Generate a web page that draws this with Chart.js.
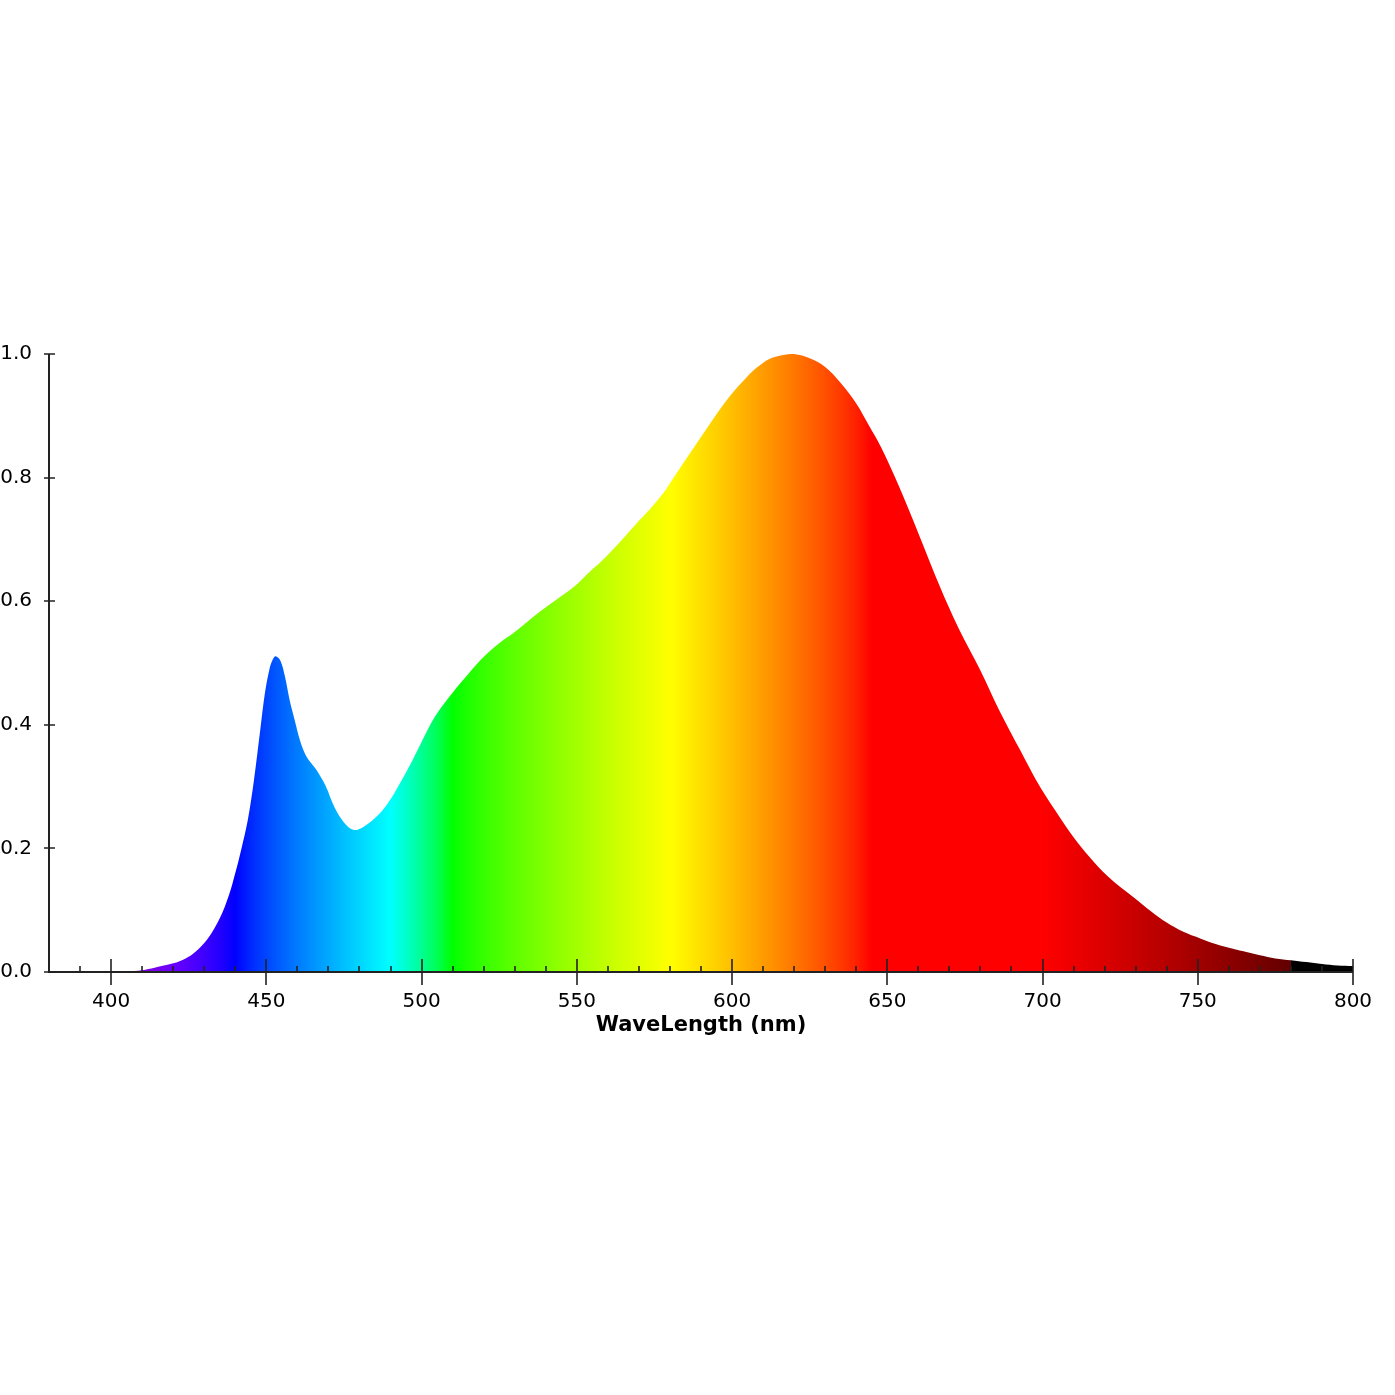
<!DOCTYPE html>
<html>
<head>
<meta charset="utf-8">
<script src="https://cdn.jsdelivr.net/npm/chart.js@4.4.1/dist/chart.umd.min.js"></script>
<style>
  html, body { margin: 0; padding: 0; background: #fff; }
  #wrap { width: 1395px; height: 1395px; }
</style>
</head>
<body>
<div id="wrap"><canvas id="spectre"></canvas></div>
<script>
// longueurs d'onde (nm) et intensite relative
var longueurs = [380, 390, 400, 405, 410, 414, 420, 424, 427, 431, 435, 438, 440, 442, 444, 446, 448, 449.5, 451, 452, 453, 454.5, 456, 457.5, 459, 461, 463, 466, 469, 472, 475, 478, 481, 485, 489, 493, 497, 500, 503, 506, 510, 514, 519, 525, 530, 536, 541, 549, 554, 558, 565, 570, 573, 578, 580, 586, 593, 599, 605, 608, 612, 616, 620, 625, 630, 635, 640, 644, 648, 654, 660, 667, 673, 680, 686, 693, 698, 704, 710, 715, 721, 729, 735, 740, 745, 751, 756, 761, 766, 770, 775, 780, 785, 790, 795, 800];
var intensites = [0, 0, 0.0005, 0.001, 0.003, 0.007, 0.014, 0.022, 0.032, 0.053, 0.087, 0.125, 0.16, 0.2, 0.245, 0.31, 0.39, 0.45, 0.49, 0.505, 0.511, 0.504, 0.478, 0.44, 0.41, 0.372, 0.348, 0.328, 0.302, 0.266, 0.242, 0.23, 0.234, 0.249, 0.272, 0.305, 0.342, 0.372, 0.402, 0.426, 0.452, 0.476, 0.505, 0.532, 0.55, 0.575, 0.594, 0.623, 0.647, 0.665, 0.702, 0.73, 0.746, 0.776, 0.791, 0.836, 0.888, 0.93, 0.964, 0.978, 0.992, 0.998, 1.0, 0.993, 0.979, 0.953, 0.92, 0.885, 0.849, 0.783, 0.71, 0.623, 0.556, 0.488, 0.424, 0.357, 0.31, 0.262, 0.218, 0.187, 0.155, 0.122, 0.098, 0.08, 0.066, 0.054, 0.045, 0.038, 0.032, 0.027, 0.022, 0.019, 0.016, 0.013, 0.0105, 0.0097];
var ticksX = [400, 450, 500, 550, 600, 650, 700, 750, 800];
var ticksY = [0, 0.2, 0.4, 0.6, 0.8, 1.0];

// couleur approx. d'une longueur d'onde (pour le degrade)
function couleurSpectre(w) {
    var r = 0, g = 0, b = 0;
    if (w < 440) { r = (440 - w) / 60; b = 1; }
    else if (w < 490) { g = (w - 440) / 50; b = 1; }
    else if (w < 510) { g = 1; b = (510 - w) / 20; }
    else if (w < 580) { r = (w - 510) / 70; g = 1; }
    else if (w < 645) { r = 1; g = (645 - w) / 65; }
    else { r = 1; }
    var f = 1;
    if (w < 420) f = 0.3 + 0.7 * (w - 380) / 40;
    else if (w > 700) f = 0.3 + 0.7 * (780 - w) / 80;
    var c = function(v) { return v === 0 ? 0 : Math.round(255 * Math.pow(v * f, 0.8)); };
    return 'rgb(' + c(r) + ',' + c(g) + ',' + c(b) + ')';
}

function degrade(context) {
    var chart = context.chart;
    var area = chart.chartArea;
    if (!area) return 'transparent';
    var sx = chart.scales.x;
    var grad = chart.ctx.createLinearGradient(area.left, 0, area.right, 0);
    var pos = function(w) { return (sx.getPixelForValue(w) - area.left) / (area.right - area.left); };
    for (var w = 380; w <= 780; w += 5) {
        grad.addColorStop(pos(w), couleurSpectre(w));
    }
    grad.addColorStop(pos(780.2), '#000');
    grad.addColorStop(1, '#000');
    return grad;
}

// axes et graduations dessines a la main
var axesPlugin = {
    id: 'axesMain',
    afterDatasetsDraw: function(chart) {
        var ctx = chart.ctx, sx = chart.scales.x, sy = chart.scales.y;
        var y0 = sy.getPixelForValue(0), x0 = sx.getPixelForValue(380);
        ctx.save();
        ctx.strokeStyle = '#222';
        ctx.lineWidth = 2;
        ctx.beginPath();
        ctx.moveTo(x0, sy.getPixelForValue(1));
        ctx.lineTo(x0, y0);
        ctx.lineTo(sx.getPixelForValue(800), y0);
        ctx.stroke();
        ctx.lineWidth = 1.6;
        ctx.beginPath();
        for (var w = 390; w <= 800; w += 10) {
            var px = Math.round(sx.getPixelForValue(w));
            if (ticksX.indexOf(w) >= 0) {
                ctx.moveTo(px, y0 - 13);
                ctx.lineTo(px, y0 + 13);
            } else {
                ctx.moveTo(px, y0 - 6);
                ctx.lineTo(px, y0);
            }
        }
        ticksY.forEach(function(v) {
            var py = Math.round(sy.getPixelForValue(v));
            ctx.moveTo(x0 - 5, py);
            ctx.lineTo(x0 + 6, py);
        });
        ctx.stroke();
        ctx.restore();
    }
};

var ctx = document.getElementById('spectre').getContext('2d');
var monSpectre = new Chart(ctx, {
    type: 'line',
    data: {
        datasets: [{
            label: 'Spectre',
            data: longueurs.map(function(w, i) { return { x: w, y: intensites[i] }; }),
            fill: 'origin',
            backgroundColor: degrade,
            borderColor: 'transparent',
            borderWidth: 0,
            pointRadius: 0,
            tension: 0.35
        }]
    },
    options: {
        responsive: true,
        maintainAspectRatio: false,
        animation: false,
        layout: { padding: { left: 0, top: 354, right: 42, bottom: 357 } },
        plugins: { legend: { display: false }, tooltip: { enabled: false } },
        scales: {
            x: {
                type: 'linear',
                min: 380,
                max: 800,
                grid: { display: false },
                border: { display: false },
                afterBuildTicks: function(axis) {
                    axis.ticks = ticksX.map(function(v) { return { value: v }; });
                },
                afterFit: function(axis) { axis.height = 66; },
                ticks: {
                    padding: 10,
                    maxRotation: 0,
                    color: '#000',
                    font: { family: 'DejaVu Sans', size: 20 }
                },
                title: {
                    display: true,
                    text: 'WaveLength (nm)',
                    color: '#000',
                    padding: 0,
                    font: { family: 'DejaVu Sans', size: 21, weight: 'bold' }
                }
            },
            y: {
                min: 0,
                max: 1,
                grid: { display: false },
                border: { display: false },
                afterBuildTicks: function(axis) {
                    axis.ticks = ticksY.map(function(v) { return { value: v }; });
                },
                afterFit: function(axis) { axis.width = 49; },
                ticks: {
                    padding: 9,
                    color: '#000',
                    font: { family: 'DejaVu Sans', size: 20 },
                    callback: function(v) { return Number(v).toFixed(1); }
                }
            }
        }
    },
    plugins: [axesPlugin]
});
</script>
</body>
</html>
